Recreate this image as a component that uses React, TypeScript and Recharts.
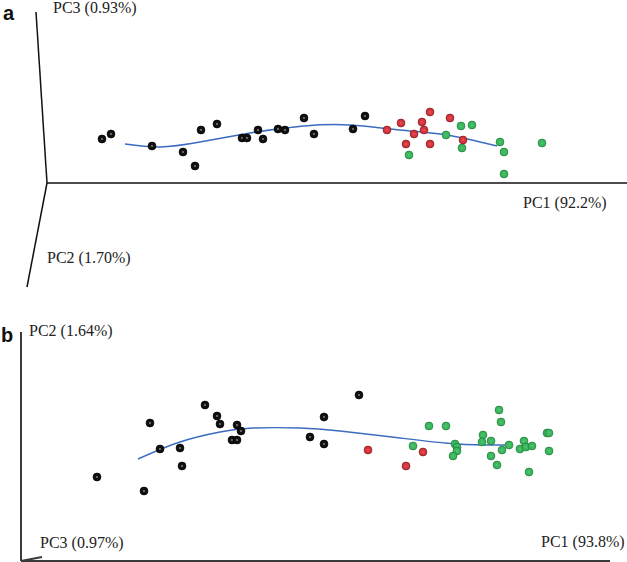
import { ComposedChart, Scatter, Line, XAxis, YAxis, ReferenceLine } from "recharts";

// panel a: PC1 vs PC3 (projected), units
const blackA = [
  { x: 5.5, y: 4.4 }, { x: 6.4, y: 4.9 }, { x: 10.5, y: 3.7 }, { x: 13.6, y: 3.1 },
  { x: 14.8, y: 1.7 }, { x: 15.4, y: 5.3 }, { x: 17.0, y: 5.9 }, { x: 19.5, y: 4.5 },
  { x: 20.0, y: 4.5 }, { x: 21.1, y: 5.3 }, { x: 21.6, y: 4.4 }, { x: 23.1, y: 5.4 },
  { x: 23.8, y: 5.3 }, { x: 25.7, y: 6.5 }, { x: 26.7, y: 4.9 }, { x: 30.6, y: 5.4 },
  { x: 31.8, y: 6.7 },
];
const redA = [
  { x: 34.0, y: 5.3 }, { x: 35.4, y: 6.0 }, { x: 35.9, y: 3.9 }, { x: 36.7, y: 4.9 },
  { x: 37.5, y: 6.1 }, { x: 37.7, y: 5.3 }, { x: 38.3, y: 7.1 }, { x: 38.3, y: 3.9 },
  { x: 40.3, y: 6.5 }, { x: 41.6, y: 4.3 },
];
const greenA = [
  { x: 36.2, y: 2.8 }, { x: 39.9, y: 4.8 }, { x: 41.4, y: 5.7 }, { x: 41.5, y: 3.5 },
  { x: 42.5, y: 5.8 }, { x: 45.3, y: 4.1 }, { x: 45.7, y: 3.1 }, { x: 45.7, y: 0.9 },
  { x: 49.5, y: 4.0 },
];
const curveA = [
  { x: 7.8, y: 3.9 }, { x: 11.3, y: 3.6 }, { x: 15.3, y: 4.1 }, { x: 20.3, y: 5.0 },
  { x: 25.7, y: 5.7 }, { x: 30.3, y: 5.8 }, { x: 35.3, y: 5.3 }, { x: 40.0, y: 4.8 },
  { x: 45.0, y: 3.7 },
];
// axis ends (origin is 0,0)
const axesA = [
  { x: 58.0, y: 0 },
  { x: -1.1, y: 17.1 },
  { x: -2.0, y: -10.4 },
];

// panel b: PC1 vs PC2
const blackB = [
  { x: 7.6, y: 8.4 }, { x: 12.3, y: 7.0 }, { x: 12.9, y: 13.8 }, { x: 13.9, y: 11.2 },
  { x: 15.9, y: 11.3 }, { x: 16.1, y: 9.5 }, { x: 18.4, y: 15.6 }, { x: 19.6, y: 14.5 },
  { x: 19.9, y: 13.7 }, { x: 21.1, y: 12.1 }, { x: 21.6, y: 12.1 }, { x: 21.6, y: 13.6 },
  { x: 22.0, y: 13.0 }, { x: 28.9, y: 12.4 }, { x: 30.3, y: 14.4 }, { x: 30.3, y: 11.7 },
  { x: 33.8, y: 16.6 },
];
const redB = [
  { x: 34.7, y: 11.1 }, { x: 38.5, y: 9.5 }, { x: 40.2, y: 10.9 },
];
const greenB = [
  { x: 39.2, y: 11.5 }, { x: 40.8, y: 13.5 }, { x: 42.5, y: 13.5 }, { x: 43.4, y: 11.7 },
  { x: 43.6, y: 11.4 }, { x: 43.6, y: 11.0 }, { x: 43.2, y: 10.5 }, { x: 46.2, y: 12.6 },
  { x: 46.1, y: 11.9 }, { x: 47.0, y: 12.0 }, { x: 47.0, y: 10.5 }, { x: 47.6, y: 9.6 },
  { x: 47.8, y: 15.1 }, { x: 48.0, y: 13.9 }, { x: 48.1, y: 11.1 }, { x: 48.8, y: 11.6 },
  { x: 49.9, y: 11.2 }, { x: 50.3, y: 12.0 }, { x: 50.5, y: 11.4 }, { x: 51.1, y: 11.5 },
  { x: 50.8, y: 8.9 }, { x: 52.6, y: 12.8 }, { x: 52.8, y: 12.8 }, { x: 52.8, y: 11.0 },
];
const curveB = [
  { x: 11.7, y: 10.2 }, { x: 15.9, y: 11.9 }, { x: 19.9, y: 12.9 }, { x: 23.2, y: 13.3 },
  { x: 27.9, y: 13.3 }, { x: 31.9, y: 13.0 }, { x: 37.9, y: 12.3 }, { x: 43.6, y: 11.7 },
  { x: 48.4, y: 11.6 },
];
const axesB = [
  { x: 58.9, y: 0 },
  { x: 0, y: 22.9 },
  { x: 2.1, y: 0.4 },
];

const BLUE = "#3b6cc0";
const serif = "Liberation Serif";

const dot = (fill: string, edge: string, center: string) => (p: any) => (
  <g>
    <circle cx={p.cx} cy={p.cy} r={3.9} fill={fill} stroke={edge} strokeWidth={0.8} />
    <circle cx={p.cx} cy={p.cy} r={1.1} fill={center} />
  </g>
);
const blackDot = dot("#111", "#000", "#7a7a7a");
const redDot = dot("#d9353d", "#7d1c20", "#e0575d");
const greenDot = dot("#3cb85e", "#1f7d3b", "#55c674");

function Panel({ height, xDomain, yDomain, black, red, green, curve, axes, axisColor, axisWidth }: any) {
  return (
    <ComposedChart width={627} height={height} margin={{ top: 0, right: 0, bottom: 0, left: 0 }}>
      <XAxis type="number" dataKey="x" domain={xDomain} allowDataOverflow hide />
      <YAxis type="number" dataKey="y" domain={yDomain} allowDataOverflow hide />
      {axes.map((end: any, i: number) => (
        <ReferenceLine key={i} segment={[{ x: 0, y: 0 }, end]} stroke={axisColor} strokeWidth={axisWidth} ifOverflow="visible" />
      ))}
      <Scatter data={green} shape={greenDot} isAnimationActive={false} />
      <Scatter data={red} shape={redDot} isAnimationActive={false} />
      <Scatter data={black} shape={blackDot} isAnimationActive={false} />
      <Line data={curve} dataKey="y" type="natural" dot={false} stroke={BLUE} strokeWidth={1.4} isAnimationActive={false} />
    </ComposedChart>
  );
}

const lbl = (left: number, top: number) => ({
  position: "absolute" as const, left, top, fontFamily: serif, fontSize: 16, lineHeight: "16px", color: "#222", whiteSpace: "nowrap" as const,
});
const tag = (left: number, top: number) => ({
  position: "absolute" as const, left, top, fontFamily: "Liberation Sans", fontWeight: 700, fontSize: 20, lineHeight: "20px", color: "#111",
});

export default function App() {
  return (
    <div style={{ position: "absolute", left: 0, top: 0, width: 627, height: 562, background: "#fff", overflow: "hidden" }}>
      <div style={{ position: "absolute", left: 0, top: 0 }}>
        <Panel height={290} xDomain={[-4.7, 58.0]} yDomain={[-10.7, 18.3]}
          black={blackA} red={redA} green={greenA} curve={curveA} axes={axesA} axisColor="#111" axisWidth={1.5} />
      </div>
      <div style={{ position: "absolute", left: 0, top: 290 }}>
        <Panel height={272} xDomain={[-2.1, 60.6]} yDomain={[-0.1, 27.1]}
          black={blackB} red={redB} green={greenB} curve={curveB} axes={axesB} axisColor="#3a3a3a" axisWidth={2} />
      </div>
      <div style={tag(3, 3)}>a</div>
      <div style={lbl(53, 0)}>PC3 (0.93%)</div>
      <div style={lbl(47, 250)}>PC2 (1.70%)</div>
      <div style={lbl(523, 195)}>PC1 (92.2%)</div>
      <div style={tag(1, 325)}>b</div>
      <div style={lbl(29, 323)}>PC2 (1.64%)</div>
      <div style={lbl(40, 535)}>PC3 (0.97%)</div>
      <div style={lbl(541, 534)}>PC1 (93.8%)</div>
    </div>
  );
}
